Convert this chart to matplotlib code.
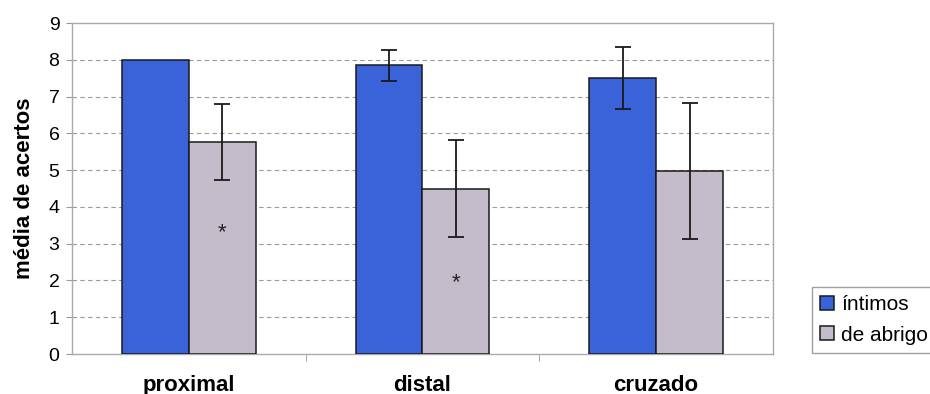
import numpy as np
import matplotlib.pyplot as plt

plt.rcParams['font.family'] = ['Liberation Sans', 'DejaVu Sans']

categorias = ['proximal', 'distal', 'cruzado']
series = ['íntimos', 'de abrigo']
intimos = [8.0, 7.85, 7.5]
intimos_err = [0.0, 0.42, 0.84]
abrigo = [5.77, 4.5, 4.97]
abrigo_err = [1.03, 1.33, 1.85]
asteriscos = [3.3, 1.95, None]  # posição do * nas barras "de abrigo"

azul = '#3b63d9'
cinza = '#c4bccb'

fig = plt.figure(figsize=(9.3, 3.94), dpi=100)
ax = fig.add_axes([0.0774, 0.1015, 0.7538, 0.840])

x = np.arange(len(categorias))
w = 1 / 3.5

err_kw = dict(ecolor='#1a1a1a', elinewidth=1.3, capsize=6, capthick=1.3)
ax.bar(x - w / 2, intimos, w, color=azul, edgecolor='#1a1a1a', linewidth=1.1,
       label=series[0], zorder=3)
ax.bar(x + w / 2, abrigo, w, color=cinza, edgecolor='#1a1a1a', linewidth=1.1,
       label=series[1], zorder=3)

# barras de erro só onde o desvio não é zero
for xs, ys, es in [(x - w / 2, intimos, intimos_err), (x + w / 2, abrigo, abrigo_err)]:
    m = np.array(es) > 0
    ax.errorbar(xs[m], np.array(ys)[m], yerr=np.array(es)[m], fmt='none',
                zorder=4, **err_kw)

for xi, yi in zip(x, asteriscos):
    if yi is not None:
        ax.text(xi + w / 2, yi, '*', ha='center', va='center', fontsize=16,
                color='#222222', zorder=5)

ax.set_xlim(-0.5, 2.5)
ax.set_ylim(0, 9)
ax.set_yticks(range(0, 10))
ax.tick_params(axis='y', labelsize=14, length=4, color='#999999', pad=5)
ax.set_xticks(x)
ax.set_xticklabels(categorias, fontsize=16, fontweight='bold')
ax.tick_params(axis='x', length=0, pad=15)
ax.set_xticks([0.5, 1.5], minor=True)
ax.tick_params(axis='x', which='minor', length=5, color='#999999', direction='out')
ax.set_ylabel('média de acertos', fontsize=16, fontweight='bold', labelpad=10)

for y in range(1, 9):
    ax.axhline(y, color='#9a9a9a', linestyle=(0, (4, 3)), linewidth=0.8, zorder=1)

for s in ax.spines.values():
    s.set_color('#aaaaaa')
    s.set_linewidth(1.0)

fig.legend(loc='lower left', bbox_to_anchor=(0.862, 0.078), fontsize=15,
           frameon=True, fancybox=False, edgecolor='#888888', handlelength=0.65,
           handleheight=0.65, handletextpad=0.35, labelspacing=0.55, borderpad=0.4)

fig.savefig('out.png', dpi=100)
